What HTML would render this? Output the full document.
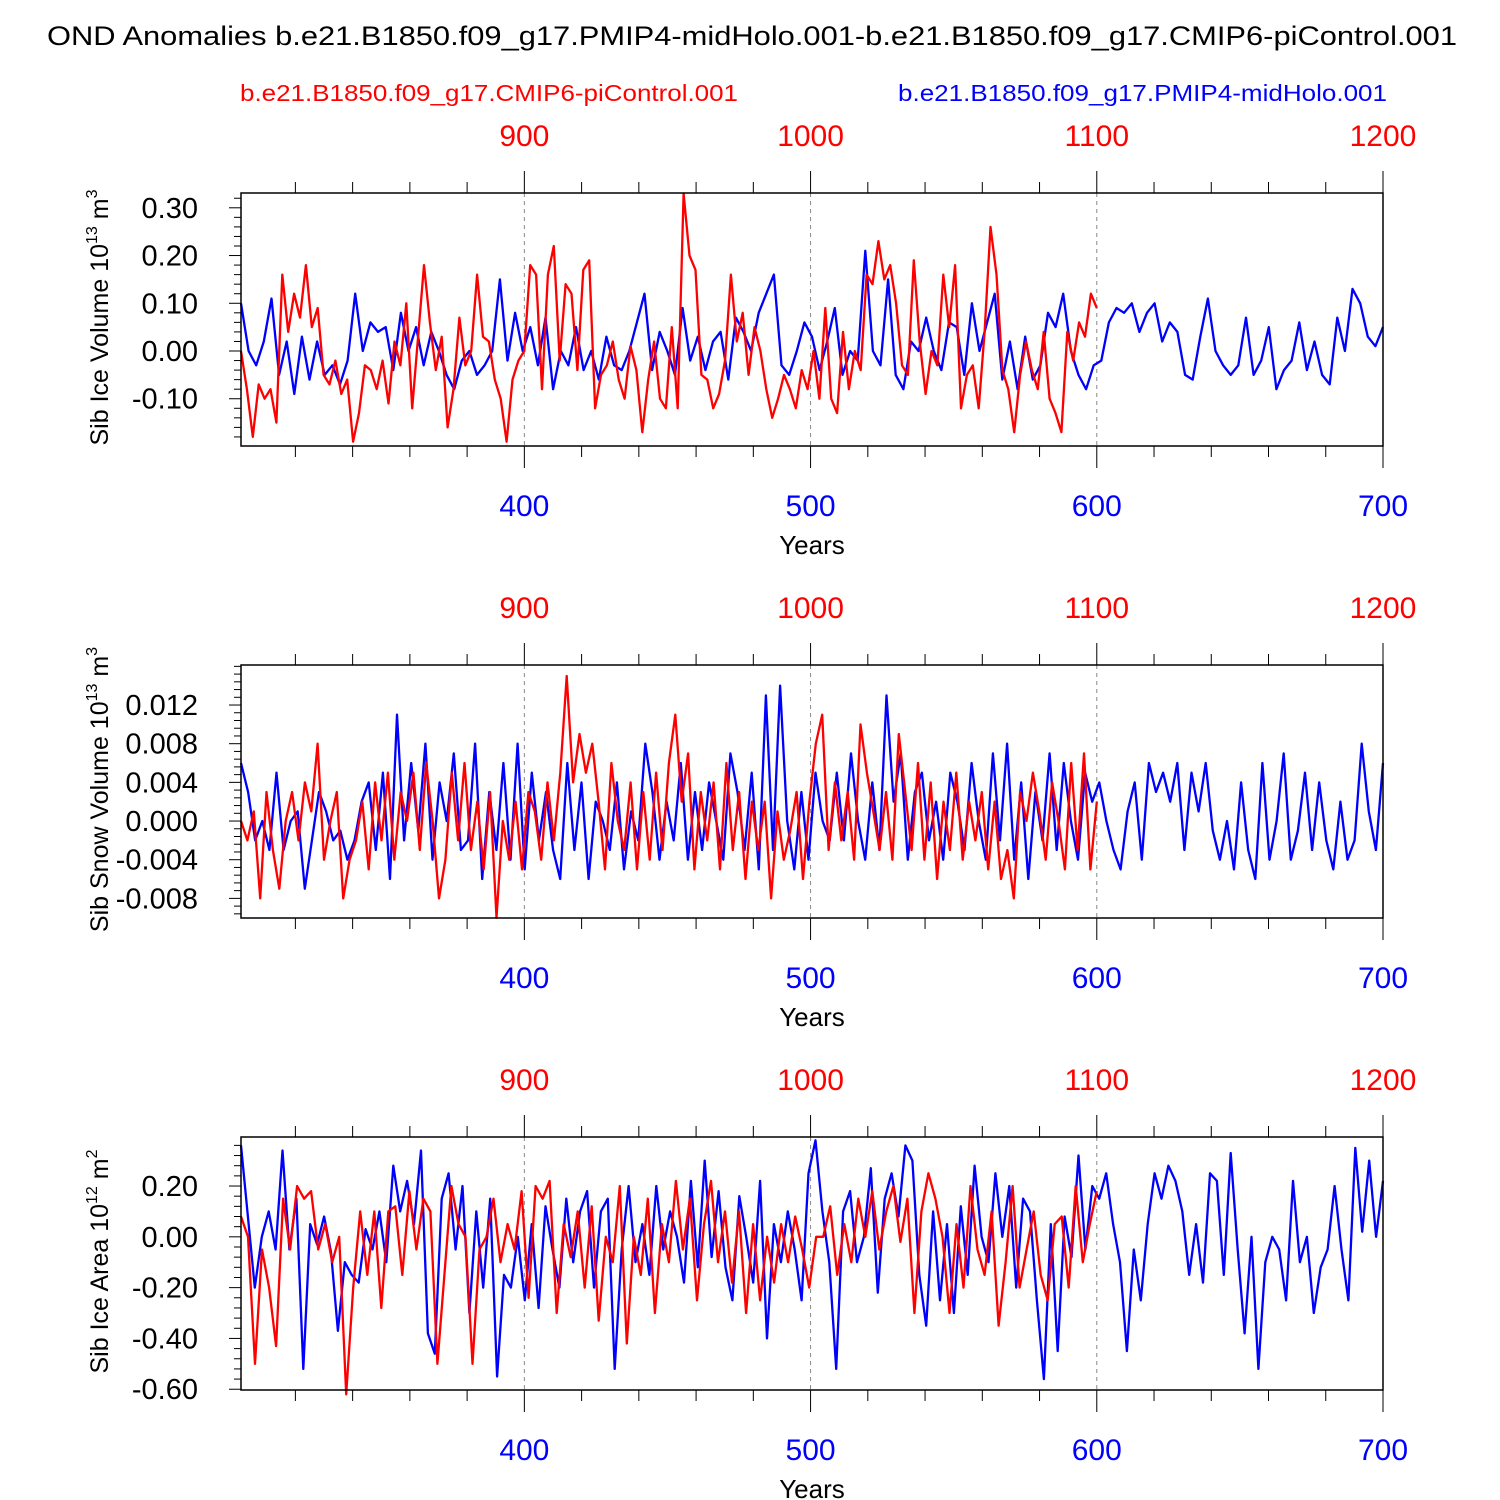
<!DOCTYPE html>
<html><head><meta charset="utf-8">
<style>
body{margin:0;background:#fff;}
svg{display:block;font-family:"Liberation Sans",Arial,sans-serif;}
</style></head>
<body>
<svg id="chart" width="1500" height="1500" viewBox="0 0 1500 1500" xmlns="http://www.w3.org/2000/svg">
<text x="47" y="45" font-size="27" textLength="1410" lengthAdjust="spacingAndGlyphs">OND Anomalies b.e21.B1850.f09_g17.PMIP4-midHolo.001-b.e21.B1850.f09_g17.CMIP6-piControl.001</text>
<text x="240" y="101" font-size="23" fill="#ff0000" textLength="498" lengthAdjust="spacingAndGlyphs">b.e21.B1850.f09_g17.CMIP6-piControl.001</text>
<text x="898" y="101" font-size="23" fill="#0000ff" textLength="489" lengthAdjust="spacingAndGlyphs">b.e21.B1850.f09_g17.PMIP4-midHolo.001</text>
</svg>
<script>
const blueStart = 301, blueEnd = 700, redStart = 801, redEnd = 1100;
const blueTicks = [400, 500, 600, 700];
const redTicks = ["900", "1000", "1100", "1200"];

const p1Ticks = [0.30, 0.20, 0.10, 0.00, -0.10];
const p1Labels = ["0.30", "0.20", "0.10", "0.00", "-0.10"];
const p2Ticks = [0.012, 0.008, 0.004, 0, -0.004, -0.008];
const p2Labels = ["0.012", "0.008", "0.004", "0.000", "-0.004", "-0.008"];
const p3Ticks = [0.2, 0, -0.2, -0.4, -0.6];
const p3Labels = ["0.20", "0.00", "-0.20", "-0.40", "-0.60"];

const p1Blue = [0.10,0.0,-0.03,0.02,0.11,-0.05,0.02,-0.09,0.03,-0.06,0.02,-0.05,-0.03,-0.07,-0.02,0.12,0.0,0.06,0.04,0.05,-0.04,0.08,0.0,0.05,-0.03,0.04,0.0,-0.05,-0.08,-0.02,0.0,-0.05,-0.03,0.0,0.15,-0.02,0.08,0.0,0.05,-0.03,0.07,-0.08,0.0,-0.03,0.05,-0.04,0.0,-0.06,0.03,-0.03,-0.04,0.0,0.06,0.12,-0.04,0.04,0.0,-0.05,0.09,-0.02,0.03,-0.04,0.02,0.04,-0.06,0.07,0.04,0.0,0.08,0.12,0.16,-0.03,-0.05,0.0,0.06,0.03,-0.04,0.02,0.09,-0.05,0.0,-0.02,0.21,0.0,-0.03,0.15,-0.05,-0.08,0.02,0.0,0.07,0.0,-0.04,0.06,0.05,-0.05,0.10,0.0,0.06,0.12,-0.06,0.02,-0.08,0.03,-0.06,-0.03,0.08,0.05,0.12,0.0,-0.05,-0.08,-0.03,-0.02,0.06,0.09,0.08,0.10,0.04,0.08,0.10,0.02,0.06,0.04,-0.05,-0.06,0.03,0.11,0.0,-0.03,-0.05,-0.03,0.07,-0.05,-0.02,0.05,-0.08,-0.04,-0.02,0.06,-0.04,0.02,-0.05,-0.07,0.07,0.0,0.13,0.10,0.03,0.01,0.05];
const p1Red = [0.0,-0.08,-0.18,-0.07,-0.10,-0.08,-0.15,0.16,0.04,0.12,0.07,0.18,0.05,0.09,-0.05,-0.07,-0.02,-0.09,-0.06,-0.19,-0.13,-0.03,-0.04,-0.08,-0.02,-0.11,0.02,-0.03,0.10,-0.12,0.03,0.18,0.06,-0.04,0.03,-0.16,-0.08,0.07,-0.03,0.0,0.16,0.03,0.02,-0.06,-0.10,-0.19,-0.06,-0.02,0.0,0.18,0.16,-0.08,0.16,0.22,-0.02,0.14,0.12,-0.04,0.17,0.19,-0.12,-0.05,-0.03,0.02,-0.06,-0.10,0.01,-0.04,-0.17,-0.06,0.02,-0.10,-0.12,0.05,-0.12,0.33,0.20,0.17,-0.05,-0.06,-0.12,-0.09,-0.02,0.16,0.02,0.08,-0.05,0.05,0.0,-0.08,-0.14,-0.10,-0.05,-0.08,-0.12,-0.04,-0.08,0.0,-0.10,0.09,-0.10,-0.13,0.04,-0.08,0.0,-0.04,0.16,0.14,0.23,0.15,0.18,0.10,-0.03,-0.05,0.19,0.02,-0.09,0.0,-0.03,0.16,0.05,0.18,-0.12,-0.05,-0.03,-0.12,0.04,0.26,0.16,-0.04,-0.08,-0.17,-0.05,0.02,-0.04,-0.08,0.04,-0.10,-0.13,-0.17,0.04,-0.02,0.06,0.03,0.12,0.09];
const p2Blue = [0.006,0.003,-0.002,0.0,-0.003,0.005,-0.003,0.0,0.001,-0.007,-0.002,0.003,0.001,-0.002,-0.001,-0.004,-0.002,0.002,0.004,-0.003,0.005,-0.006,0.011,-0.002,0.006,-0.001,0.008,-0.004,0.004,0.0,0.007,-0.003,-0.002,0.008,-0.006,0.003,-0.003,0.006,-0.004,0.008,-0.005,0.005,-0.002,0.003,-0.003,-0.006,0.006,-0.003,0.004,-0.006,0.002,0.0,-0.003,0.004,-0.005,0.001,-0.002,0.008,0.003,-0.004,0.002,-0.002,0.006,-0.004,0.003,-0.003,0.004,0.0,-0.004,0.007,0.003,-0.003,0.005,-0.005,0.013,-0.003,0.014,0.0,-0.005,0.003,-0.004,0.005,0.0,-0.002,0.005,-0.002,0.007,0.0,-0.004,0.004,-0.003,0.013,0.002,0.007,-0.004,0.003,0.005,-0.002,0.002,-0.004,0.005,0.002,-0.003,0.006,0.0,-0.004,0.007,-0.002,0.008,-0.004,0.004,-0.006,0.003,-0.002,0.007,-0.003,0.006,0.0,-0.004,0.005,0.002,0.004,0.0,-0.003,-0.005,0.001,0.004,-0.004,0.006,0.003,0.005,0.002,0.006,-0.003,0.005,0.001,0.006,-0.001,-0.004,0.0,-0.005,0.004,-0.003,-0.006,0.006,-0.004,0.0,0.007,-0.004,-0.001,0.005,-0.003,0.004,-0.002,-0.005,0.002,-0.004,-0.002,0.008,0.001,-0.003,0.006];
const p2Red = [0.0,-0.002,0.001,-0.008,0.003,-0.003,-0.007,0.0,0.003,-0.002,0.004,0.001,0.008,-0.004,0.0,0.003,-0.008,-0.004,-0.002,0.002,-0.005,0.004,-0.002,0.005,-0.004,0.003,0.0,0.005,-0.003,0.006,0.0,-0.008,-0.004,0.005,-0.002,0.006,-0.003,0.002,-0.005,0.003,-0.010,0.0,-0.004,0.002,-0.005,0.003,0.001,-0.004,0.004,-0.002,0.005,0.015,0.004,0.009,0.005,0.008,0.002,-0.005,0.006,0.0,-0.003,0.004,-0.005,0.003,-0.004,0.005,-0.003,0.006,0.011,0.002,0.007,-0.005,0.003,-0.002,0.004,-0.005,0.006,-0.003,0.003,-0.006,0.002,-0.003,0.002,-0.008,0.001,-0.004,-0.001,0.003,-0.006,0.002,0.008,0.011,-0.003,0.004,-0.002,0.003,-0.004,0.010,0.005,0.001,-0.003,0.003,-0.004,0.009,0.003,-0.003,0.006,-0.004,0.004,-0.006,0.002,-0.003,0.005,-0.004,0.002,-0.002,0.003,-0.005,0.002,-0.006,-0.003,-0.008,0.003,0.0,0.005,0.001,-0.004,0.004,0.0,-0.005,0.006,-0.003,0.007,-0.005,0.002];
const p3Blue = [0.36,0.08,-0.20,0.0,0.10,-0.05,0.34,-0.05,0.15,-0.52,0.05,-0.03,0.08,-0.06,-0.37,-0.10,-0.15,-0.18,0.03,-0.05,0.10,-0.10,0.28,0.10,0.22,0.05,0.34,-0.38,-0.46,0.15,0.25,-0.05,0.20,-0.30,0.10,-0.20,0.15,-0.55,-0.15,-0.20,0.0,-0.25,0.05,-0.28,0.12,-0.05,-0.20,0.15,-0.10,0.10,0.18,-0.20,0.10,0.15,-0.52,-0.05,0.20,-0.10,0.05,-0.15,0.20,-0.05,0.10,0.0,-0.18,0.22,-0.12,0.30,-0.08,0.18,-0.12,-0.25,0.16,0.0,-0.18,0.22,-0.40,0.05,-0.10,0.10,-0.05,-0.25,0.25,0.38,0.10,-0.10,-0.52,0.10,0.18,-0.10,0.0,0.27,-0.22,0.15,0.25,0.08,0.36,0.30,-0.15,-0.35,0.10,-0.25,0.05,-0.30,0.12,-0.15,0.28,0.0,-0.10,0.25,0.0,0.20,-0.20,0.15,0.10,-0.25,-0.56,0.05,-0.45,0.08,-0.08,0.32,-0.05,0.20,0.15,0.25,0.05,-0.10,-0.45,-0.05,-0.25,0.05,0.25,0.15,0.28,0.22,0.10,-0.15,0.05,-0.18,0.25,0.22,-0.15,0.33,-0.05,-0.38,0.0,-0.52,-0.10,0.0,-0.05,-0.25,0.22,-0.10,0.0,-0.30,-0.12,-0.05,0.20,-0.05,-0.25,0.35,0.02,0.30,0.0,0.22];
const p3Red = [0.08,0.0,-0.50,-0.05,-0.20,-0.43,0.15,-0.05,0.20,0.15,0.18,-0.05,0.05,-0.10,0.0,-0.62,-0.20,0.10,-0.15,0.10,-0.28,0.10,0.12,-0.15,0.18,-0.05,0.15,0.10,-0.50,-0.15,0.20,0.05,0.0,-0.50,-0.05,0.0,0.15,-0.10,0.05,-0.05,0.18,-0.24,0.20,0.15,0.22,-0.30,0.05,-0.08,0.10,-0.20,0.12,-0.33,0.0,-0.10,0.20,-0.42,0.0,-0.15,0.15,-0.30,0.05,-0.10,0.22,-0.05,0.15,-0.25,0.05,0.22,-0.10,0.10,-0.18,0.10,-0.30,0.05,-0.25,0.0,-0.18,0.05,-0.10,0.08,-0.05,-0.20,0.0,0.0,0.12,-0.15,0.05,-0.10,0.15,0.0,0.18,-0.05,0.10,0.20,-0.02,0.15,-0.30,0.10,0.25,0.15,0.0,-0.30,0.05,-0.20,0.20,-0.05,-0.15,0.10,-0.35,-0.10,0.20,-0.20,-0.05,0.10,-0.15,-0.25,0.05,0.08,-0.20,0.20,-0.10,0.05,0.18];

const svg = document.getElementById('chart');
const NS = 'http://www.w3.org/2000/svg';
function mk(tag, attrs, parent){const e=document.createElementNS(NS,tag);for(const k in attrs)e.setAttribute(k,attrs[k]);(parent||svg).appendChild(e);return e;}

const L = 241, R = 1383;
const xScale = yr => L + (yr - blueStart) * (R - L) / (blueEnd - blueStart);

const panels = [
  {top:193, ymin:-0.199, ymax:0.331, ticks:p1Ticks, labels:p1Labels, blue:p1Blue, red:p1Red, title:'Sib Ice Volume 10', sup:'13', unit:' m', usup:'3', name:'ice-volume'},
  {top:665, ymin:-0.01003, ymax:0.01614, ticks:p2Ticks, labels:p2Labels, blue:p2Blue, red:p2Red, title:'Sib Snow Volume 10', sup:'13', unit:' m', usup:'3', name:'snow-volume'},
  {top:1137, ymin:-0.603, ymax:0.393, ticks:p3Ticks, labels:p3Labels, blue:p3Blue, red:p3Red, title:'Sib Ice Area 10', sup:'12', unit:' m', usup:'2', name:'ice-area'}
];

panels.forEach(p => {
  const T = p.top, B = T + 253;
  const g = mk('g', {});
  
  
  const yScale = v => B - (v - p.ymin) * (B - T) / (p.ymax - p.ymin);
  [400,500,600].forEach(yr => {
    const gl = mk('line', {x1:xScale(yr), x2:xScale(yr), y1:T, y2:B, stroke:'#888', 'stroke-width':1, 'stroke-dasharray':'4,4'}, g);
    
    
  });
  for (let yr = 320; yr <= 700; yr += 20) {
    const x = xScale(yr), major = yr % 100 === 0;
    mk('line', {x1:x, x2:x, y1:B, y2:B + (major ? 22 : 11), stroke:'#000', 'stroke-width':1}, g);
    mk('line', {x1:x, x2:x, y1:T, y2:T - (major ? 22 : 11), stroke:'#000', 'stroke-width':1}, g);
  }
  blueTicks.forEach((yr, i) => {
    const t = mk('text', {x:xScale(yr), y:B + 70, 'text-anchor':'middle', 'font-size':30, fill:'#0000ff'}, g);
    t.textContent = yr;
    
    
    const r = mk('text', {x:xScale(yr), y:T - 47, 'text-anchor':'middle', 'font-size':30, fill:'#ff0000'}, g);
    r.textContent = redTicks[i];
    
    
  });
  const xt = mk('text', {x:812, y:B + 108, 'text-anchor':'middle', 'font-size':26}, g);
  xt.textContent = 'Years';
  
  
  const step = p.ticks[0] - p.ticks[1], minor = step / 5;
  for (let v = p.ticks[p.ticks.length-1] - 5*minor; v <= p.ymax + 1e-9; v += minor) {
    if (v < p.ymin - 1e-9) continue;
    const y = yScale(v);
    const isMajor = p.ticks.some(t => Math.abs(t - v) < minor/10);
    mk('line', {x1:L, x2:L - (isMajor ? 12 : 7), y1:y, y2:y, stroke:'#000', 'stroke-width':1}, g);
  }
  p.ticks.forEach((v, i) => {
    const t = mk('text', {x:198, y:yScale(v) + 10, 'text-anchor':'end', 'font-size':29}, g);
    t.textContent = p.labels[i];
    
    
  });
  const cy = (T + B) / 2 - 2;
  const yt = mk('text', {x:0, y:0, 'text-anchor':'middle', 'font-size':25, transform:`translate(108,${cy}) rotate(-90)`}, g);
  
  
  yt.innerHTML = `${p.title}<tspan dy="-11" font-size="16">${p.sup}</tspan><tspan dy="11">${p.unit}</tspan><tspan dy="-11" font-size="16">${p.usup}</tspan>`;
  function line(vals, s, e, color, nm) {
    const n = vals.length, d = vals.map((v, i) => (i ? 'L' : 'M') + xScale(s + i * (e - s) / (n - 1)).toFixed(1) + ',' + yScale(v).toFixed(1)).join('');
    const pth = mk('path', {d, fill:'none', stroke:color, 'stroke-width':2.3, 'stroke-linejoin':'round'}, g);
    
    
  }
  line(p.blue, blueStart, blueEnd, '#0000ff', 'midholo-line');
  line(p.red, blueStart, blueStart + (redEnd - redStart), '#ff0000', 'picontrol-line');
  const fr = mk('rect', {x:L, y:T, width:R - L, height:B - T, fill:'none', stroke:'#000', 'stroke-width':1.5}, g);
  
  
});
</script>
</body></html>
